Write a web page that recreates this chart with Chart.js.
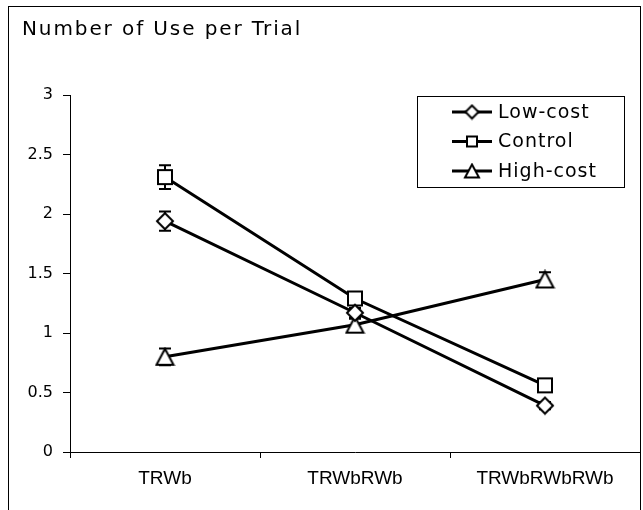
<!DOCTYPE html>
<html>
<head>
<meta charset="utf-8">
<script src="https://cdn.jsdelivr.net/npm/chart.js@4.4.1/dist/chart.umd.min.js"></script>
<style>
  html, body { margin: 0; padding: 0; background: #fff; }
  #wrap { width: 643px; height: 510px; }
</style>
</head>
<body>
<div id="wrap"><canvas id="chart" width="643" height="510"></canvas></div>
<script>
// data
const categories = ['TRWb', 'TRWbRWb', 'TRWbRWbRWb'];
const lowCost = [1.94, 1.17, 0.39];
const control = [2.31, 1.29, 0.56];
const highCost = [0.80, 1.07, 1.45];
const lowCostErr = [0.08, 0.04, 0.03];
const controlErr = [0.10, 0.05, 0.04];
const highCostErr = [0.07, 0.05, 0.06];
const yTicks = [0, 0.5, 1, 1.5, 2, 2.5, 3];
const titleText = 'Number of Use per Trial';

// marker images: white fill, black outline, centred on the point like Excel does
function makeMarker(shape, w, h) {
  const c = document.createElement('canvas');
  c.width = w + 4;
  c.height = h + 4;
  const ctx = c.getContext('2d');
  const cx = c.width / 2, cy = c.height / 2;
  ctx.beginPath();
  if (shape === 'diamond') {
    ctx.moveTo(cx, cy - h / 2);
    ctx.lineTo(cx + w / 2, cy);
    ctx.lineTo(cx, cy + h / 2);
    ctx.lineTo(cx - w / 2, cy);
  } else if (shape === 'square') {
    ctx.rect(cx - w / 2, cy - h / 2, w, h);
  } else {
    ctx.moveTo(cx, cy - h / 2);
    ctx.lineTo(cx + w / 2, cy + h / 2);
    ctx.lineTo(cx - w / 2, cy + h / 2);
  }
  ctx.closePath();
  ctx.fillStyle = '#fff';
  ctx.fill();
  ctx.lineWidth = 2;
  ctx.strokeStyle = '#000';
  ctx.stroke();
  return c;
}

// white background, outer frame and the title
const framePlugin = {
  id: 'frame',
  beforeDraw(chart) {
    const ctx = chart.ctx;
    ctx.save();
    ctx.fillStyle = '#fff';
    ctx.fillRect(0, 0, chart.width, chart.height);
    ctx.strokeStyle = '#000';
    ctx.lineWidth = 1;
    ctx.strokeRect(8.5, 6.5, 632, 520);
    ctx.fillStyle = '#000';
    ctx.font = '20px "DejaVu Sans"';
    ctx.letterSpacing = '1.9px';
    ctx.textBaseline = 'alphabetic';
    ctx.fillText(titleText, 22, 35);
    ctx.restore();
  }
};

// error bars drawn behind the markers
const errorBarPlugin = {
  id: 'errorBars',
  beforeDatasetsDraw(chart) {
    const ctx = chart.ctx;
    const xs = chart.scales.x, ys = chart.scales.y;
    ctx.save();
    ctx.strokeStyle = '#000';
    ctx.lineWidth = 2;
    chart.data.datasets.forEach(ds => {
      ds.data.forEach((v, i) => {
        const e = ds.errors[i];
        const x = xs.getPixelForValue(i);
        const top = ys.getPixelForValue(v + e);
        const bot = ys.getPixelForValue(v - e);
        ctx.beginPath();
        ctx.moveTo(x, top); ctx.lineTo(x, bot);
        ctx.moveTo(x - 6, top); ctx.lineTo(x + 6, top);
        ctx.moveTo(x - 6, bot); ctx.lineTo(x + 6, bot);
        ctx.stroke();
      });
    });
    ctx.restore();
  }
};

// boxed legend inside the plot
const legendBoxPlugin = {
  id: 'legendBox',
  afterDraw(chart) {
    const ctx = chart.ctx;
    const box = { x: 417.5, y: 96.5, w: 207, h: 91 };
    ctx.save();
    ctx.fillStyle = '#fff';
    ctx.fillRect(box.x, box.y, box.w, box.h);
    ctx.strokeStyle = '#000';
    ctx.lineWidth = 1;
    ctx.strokeRect(box.x, box.y, box.w, box.h);
    ctx.font = '19px "DejaVu Sans"';
    ctx.letterSpacing = '1px';
    ctx.textBaseline = 'middle';
    chart.data.datasets.forEach((ds, i) => {
      const cy = 112 + i * 29.5;
      ctx.strokeStyle = '#000';
      ctx.lineWidth = 3;
      ctx.beginPath();
      ctx.moveTo(452, cy); ctx.lineTo(492, cy);
      ctx.stroke();
      const m = ds.legendMarker;
      ctx.drawImage(m, 472 - m.width / 2, cy - m.height / 2);
      ctx.fillStyle = '#000';
      ctx.fillText(ds.label, 498, cy + 1);
    });
    ctx.restore();
  }
};

function series(label, data, errors, marker, legendMarker) {
  return {
    label: label,
    data: data,
    errors: errors,
    borderColor: '#000',
    borderWidth: 3,
    tension: 0,
    fill: false,
    pointStyle: marker,
    pointRadius: 8,
    pointHoverRadius: 8,
    legendMarker: legendMarker
  };
}

new Chart(document.getElementById('chart'), {
  type: 'line',
  data: {
    labels: categories,
    datasets: [
      series('Low-cost', lowCost, lowCostErr, makeMarker('diamond', 16, 16), makeMarker('diamond', 13, 13)),
      series('Control', control, controlErr, makeMarker('square', 14, 14), makeMarker('square', 10, 10)),
      series('High-cost', highCost, highCostErr, makeMarker('triangle', 17, 16), makeMarker('triangle', 14, 13))
    ]
  },
  options: {
    responsive: false,
    animation: false,
    devicePixelRatio: 1,
    layout: { autoPadding: false, padding: { top: 95, right: 3, left: 0, bottom: 0 } },
    plugins: {
      legend: { display: false },
      title: { display: false },
      tooltip: { enabled: false }
    },
    scales: {
      x: {
        type: 'category',
        offset: true,
        grid: { offset: true, drawOnChartArea: false, drawTicks: true, tickLength: 6, color: '#000' },
        border: { display: true, color: '#000', width: 1 },
        ticks: { color: '#000', font: { family: 'Liberation Sans', size: 19 }, padding: 9, maxRotation: 0 },
        afterFit: s => { s.height = 58; }
      },
      y: {
        min: 0,
        max: 3,
        afterBuildTicks: s => { s.ticks = yTicks.map(v => ({ value: v })); },
        grid: { drawOnChartArea: false, drawTicks: true, tickLength: 7, color: '#000' },
        border: { display: true, color: '#000', width: 1 },
        ticks: { color: '#000', font: { family: 'DejaVu Sans', size: 16 }, padding: 10, callback: v => String(v) },
        afterFit: s => { s.width = 70; }
      }
    }
  },
  plugins: [framePlugin, errorBarPlugin, legendBoxPlugin]
});
</script>
</body>
</html>
